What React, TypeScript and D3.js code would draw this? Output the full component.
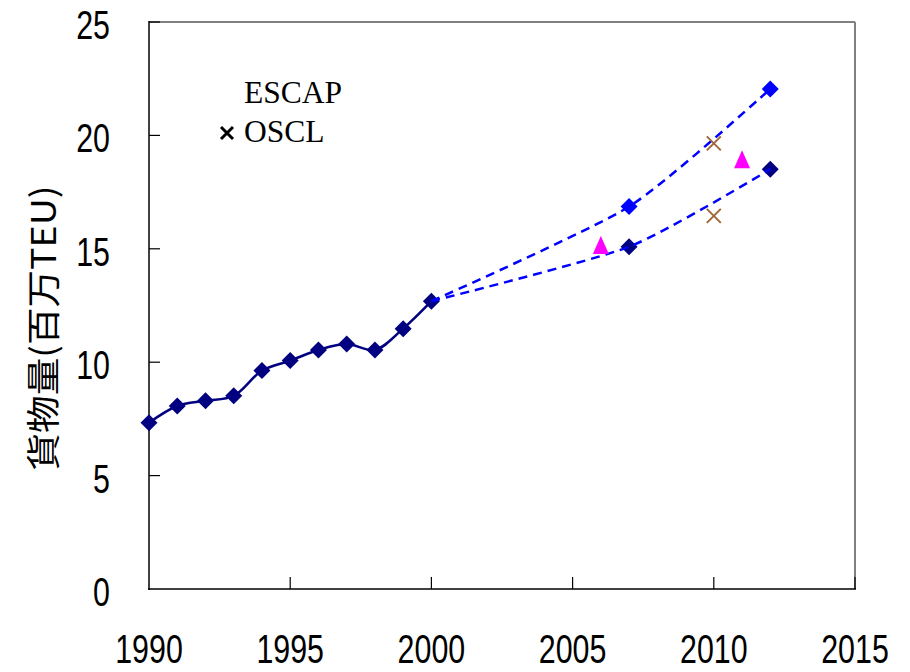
import React from "react";
import * as d3 from "d3";

const histYears = [1990, 1991, 1992, 1993, 1994, 1995, 1996, 1997, 1998, 1999, 2000];
const histValues = [7.33, 8.07, 8.3, 8.52, 9.63, 10.07, 10.54, 10.8, 10.54, 11.48, 12.69];

const upperYears = [2000, 2007, 2012];
const upperValues = [12.69, 16.86, 22.05];
const lowerYears = [2000, 2007, 2012];
const lowerValues = [12.69, 15.09, 18.51];

const osclYears = [2010, 2010];
const osclValues = [19.65, 16.45];

const escapYears = [2006, 2011];
const escapValues = [15.17, 18.95];

const xTicks = [1990, 1995, 2000, 2005, 2010, 2015];
const yTicks = [0, 5, 10, 15, 20, 25];

const W = 910;
const H = 672;
const L = 149, R = 855, T = 22, B = 589;

export default function App() {
  const x = d3.scaleLinear().domain([1990, 2015]).range([L, R]);
  const y = d3.scaleLinear().domain([0, 25]).range([B, T]);

  const hist = histYears.map((yr, i) => [yr, histValues[i]] as [number, number]);
  const upper = upperYears.map((yr, i) => [yr, upperValues[i]] as [number, number]);
  const lower = lowerYears.map((yr, i) => [yr, lowerValues[i]] as [number, number]);

  const line = d3
    .line<[number, number]>()
    .x((d) => x(d[0]))
    .y((d) => y(d[1]))
    .curve(d3.curveCatmullRom.alpha(0.5));

  const dashLine = d3
    .line<[number, number]>()
    .x((d) => x(d[0]))
    .y((d) => y(d[1]))
    .curve(d3.curveCardinal.tension(0.35));

  const diamond = (cx: number, cy: number, r: number) =>
    `M${cx},${cy - r}L${cx + r},${cy}L${cx},${cy + r}L${cx - r},${cy}Z`;
  const tri = (cx: number, cy: number) =>
    `M${cx},${cy - 9}L${cx + 8},${cy + 9}L${cx - 8},${cy + 9}Z`;
  const cross = (cx: number, cy: number, r: number) =>
    `M${cx - r},${cy - r}L${cx + r},${cy + r}M${cx + r},${cy - r}L${cx - r},${cy + r}`;

  const tickFont = "'Liberation Sans', Arial, sans-serif";

  return (
    <svg width={W} height={H} style={{ position: "absolute", left: 0, top: 0, background: "#fff" }}>
      <rect x={0} y={0} width={W} height={H} fill="#fff" />
      {/* frame */}
      <line x1={L} y1={T} x2={R} y2={T} stroke="#808080" strokeWidth={2} />
      <line x1={R} y1={T} x2={R} y2={B} stroke="#808080" strokeWidth={2} />
      <line x1={L} y1={T - 1} x2={L} y2={B + 1} stroke="#000" strokeWidth={1.5} />
      <line x1={L - 1} y1={B} x2={R + 1} y2={B} stroke="#000" strokeWidth={1.5} />

      {/* y ticks */}
      {yTicks.map((t) => (
        <g key={"yt" + t}>
          {t > 0 && <line x1={L} x2={L + 11} y1={y(t)} y2={y(t)} stroke="#000" strokeWidth={1.2} />}
          <text
            transform={`translate(110,${y(t) + 17}) scale(0.76,1)`}
            textAnchor="end"
            fontFamily={tickFont}
            fontSize={40}
            fill="#000"
          >
            {t}
          </text>
        </g>
      ))}

      {/* x ticks */}
      {xTicks.map((t) => (
        <g key={"xt" + t}>
          {t > 1990 && <line x1={x(t)} x2={x(t)} y1={B} y2={B - 12} stroke="#000" strokeWidth={1.2} />}
          <text
            transform={`translate(${x(t)},663) scale(0.76,1)`}
            textAnchor="middle"
            fontFamily={tickFont}
            fontSize={40}
            fill="#000"
          >
            {t}
          </text>
        </g>
      ))}

      {/* y-axis title */}
      <text
        transform={`translate(56,328) rotate(-90)`}
        textAnchor="middle"
        fontFamily="'Noto Sans CJK JP', 'Liberation Sans', sans-serif"
        fontSize={34}
        fill="#000"
        textLength={285}
        lengthAdjust="spacingAndGlyphs"
      >
        貨物量(百万TEU)
      </text>

      {/* historical line */}
      <path d={line(hist) || ""} fill="none" stroke="#000080" strokeWidth={2.5} />
      {hist.map((d, i) => (
        <path key={"h" + i} d={diamond(x(d[0]), y(d[1]), 8.5)} fill="#000080" />
      ))}

      {/* lower forecast markers */}
      {lower.slice(1).map((d, i) => (
        <path key={"lo" + i} d={diamond(x(d[0]), y(d[1]), 8.5)} fill="#000080" />
      ))}

      {/* dashed forecast lines */}
      <path d={dashLine(upper) || ""} fill="none" stroke="#0000FF" strokeWidth={2.5} strokeDasharray="9,6" />
      <path d={dashLine(lower) || ""} fill="none" stroke="#0000FF" strokeWidth={2.5} strokeDasharray="9,6" />

      {/* upper forecast markers */}
      {upper.slice(1).map((d, i) => (
        <path key={"up" + i} d={diamond(x(d[0]), y(d[1]), 8.5)} fill="#0000FF" />
      ))}

      {/* ESCAP triangles */}
      {escapYears.map((yr, i) => (
        <path key={"es" + i} d={tri(x(yr), y(escapValues[i]))} fill="#FF00FF" />
      ))}

      {/* OSCL crosses */}
      {osclYears.map((yr, i) => (
        <path
          key={"os" + i}
          d={cross(x(yr), y(osclValues[i]), 7)}
          fill="none"
          stroke="#A0693C"
          strokeWidth={2}
        />
      ))}

      {/* legend */}
      <text x={244} y={103} fontFamily="'Liberation Serif', 'Times New Roman', serif" fontSize={31.5} fill="#000">
        ESCAP
      </text>
      <path d={cross(227, 133, 6)} stroke="#000" strokeWidth={3} fill="none" />
      <text x={244} y={142} fontFamily="'Liberation Serif', 'Times New Roman', serif" fontSize={31.5} fill="#000">
        OSCL
      </text>
    </svg>
  );
}
